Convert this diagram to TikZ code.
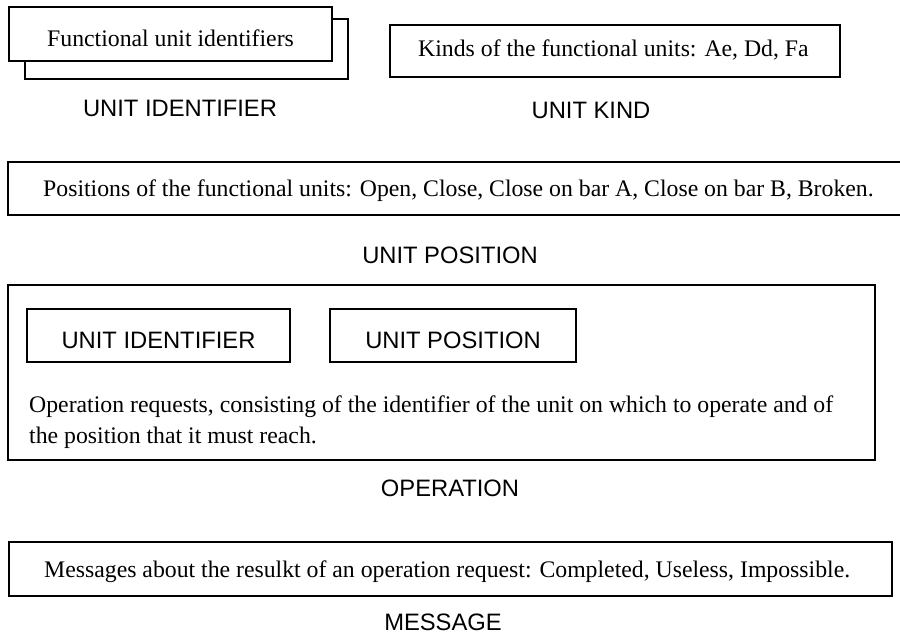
\documentclass[tikz,border=0pt]{standalone}
\usepackage{fontspec}
\setmainfont{Liberation Serif}
\setsansfont{Liberation Sans}
\begin{document}
\begin{tikzpicture}[x=1pt,y=-1pt,
  box/.style={draw=black, line width=2pt},
  serif/.style={font=\fontsize{23.75pt}{32pt}\selectfont, inner sep=0pt},
  sans/.style={font=\sffamily\fontsize{23.75pt}{32pt}\selectfont, inner sep=0pt}]
\useasboundingbox[fill=white] (0,0) rectangle (900,634);

% UNIT IDENTIFIER (stacked boxes)
\draw[box] (25,19) rectangle (348,79);
\draw[box, fill=white] (9,7) rectangle (332,61);
\node[serif, anchor=base west] (t1) at (47,47) {Functional unit identifiers};
\node[sans, anchor=base] (l1) at (180,117) {UNIT IDENTIFIER};

% UNIT KIND
\draw[box] (390,25) rectangle (840,77);
\node[serif, anchor=base west] (t2) at (418,57) {Kinds of the functional units: Ae, Dd, Fa};
\node[sans, anchor=base] (l2) at (591,118) {UNIT KIND};

% UNIT POSITION
\draw[box] (902,162) -- (8,162) -- (8,215) -- (902,215);
\node[serif, anchor=base west] (t3) at (43,196) {Positions of the functional units: Open, Close, Close on bar A, Close on bar B, Broken.};
\node[sans, anchor=base] (l3) at (450,263) {UNIT POSITION};

% OPERATION
\draw[box] (8,285) rectangle (875,460);
\draw[box] (27,309) rectangle (290,362);
\draw[box] (330,309) rectangle (576,362);
\node[sans, anchor=base] (i1) at (158.5,348) {UNIT IDENTIFIER};
\node[sans, anchor=base] (i2) at (453,348) {UNIT POSITION};
\node[serif, anchor=base west] (t4a) at (29,412) {Operation requests, consisting of the identifier of the unit on which to operate and of};
\node[serif, anchor=base west] (t4b) at (29,443) {the position that it must reach.};
\node[sans, anchor=base] (l4) at (450,496) {OPERATION};

% MESSAGE
\draw[box] (9,542) rectangle (892,596);
\node[serif, anchor=base west] (t5) at (44,577) {Messages about the resulkt of an operation request: Completed, Useless, Impossible.};
\node[sans, anchor=base] (l5) at (443,630) {MESSAGE};
\end{tikzpicture}
\end{document}
